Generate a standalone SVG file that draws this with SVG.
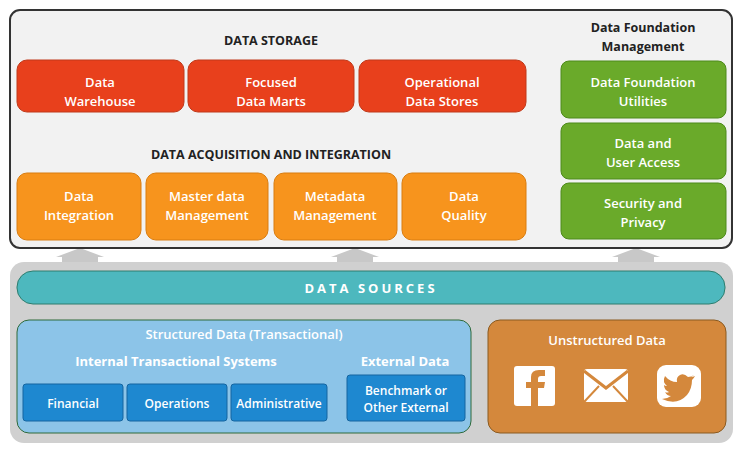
<svg xmlns="http://www.w3.org/2000/svg" width="743" height="454" viewBox="0 0 743 454">
<style>
text{font-family:"Open Sans","Liberation Sans",sans-serif;font-size:13px;fill:#fff;text-anchor:middle;font-weight:600}
.h{fill:#222;font-weight:bold;font-size:12.5px}
.red{fill:#e8401c;stroke:#c0391a}
.org{fill:#f7941d;stroke:#d97d10}
.grn{fill:#6aaa2a;stroke:#4d8a1a}
.blu{fill:#1e88d0;stroke:#1565a0}
</style>
<g id="arrows">
<path d="M62 262V257H56L80 248 104 257H98V262Z" fill="#c8c8c8"/>
<path d="M337 262V257H331L355 248 379 257H373V262Z" fill="#c8c8c8"/>
<path d="M618 262V257H612L636 248 660 257H654V262Z" fill="#c8c8c8"/>
</g>
<g id="top">
<rect x="10" y="10" width="722" height="238" rx="10" fill="#f2f2f2" stroke="#333" stroke-width="2"/>
<text class="h" x="271" y="45">DATA STORAGE</text>
<text class="h" x="271" y="159">DATA ACQUISITION AND INTEGRATION</text>
<text class="h" x="643" y="32">Data Foundation</text>
<text class="h" x="643" y="51">Management</text>
</g>
<g id="dw"><rect class="red" x="17" y="60" width="167" height="52" rx="10"/><text x="100" y="87">Data</text><text x="100" y="106">Warehouse</text></g>
<g id="dm"><rect class="red" x="188" y="60" width="166" height="52" rx="10"/><text x="271" y="87">Focused</text><text x="271" y="106">Data Marts</text></g>
<g id="ods"><rect class="red" x="359" y="60" width="167" height="52" rx="10"/><text x="442" y="87">Operational</text><text x="442" y="106">Data Stores</text></g>
<g id="di"><rect class="org" x="17" y="173" width="124" height="67" rx="10"/><text x="79" y="201">Data</text><text x="79" y="220">Integration</text></g>
<g id="mdm"><rect class="org" x="146" y="173" width="122" height="67" rx="10"/><text x="207" y="201">Master data</text><text x="207" y="220">Management</text></g>
<g id="meta"><rect class="org" x="274" y="173" width="123" height="67" rx="10"/><text x="335" y="201">Metadata</text><text x="335" y="220">Management</text></g>
<g id="dq"><rect class="org" x="402" y="173" width="124" height="67" rx="10"/><text x="464" y="201">Data</text><text x="464" y="220">Quality</text></g>
<g id="dfu"><rect class="grn" x="561" y="61" width="165" height="57" rx="8"/><text x="643" y="87">Data Foundation</text><text x="643" y="106">Utilities</text></g>
<g id="dua"><rect class="grn" x="561" y="123" width="165" height="56" rx="8"/><text x="643" y="148">Data and</text><text x="643" y="167">User Access</text></g>
<g id="sp"><rect class="grn" x="561" y="183" width="165" height="56" rx="8"/><text x="643" y="208">Security and</text><text x="643" y="227">Privacy</text></g>
<g id="bottom">
<rect x="10" y="262" width="723" height="181" rx="14" fill="#d0d0d0"/>
</g>
<g id="ds"><rect x="17" y="271" width="708" height="33" rx="16" fill="#4db8be" stroke="#2e7d6e"/><text x="371" y="293" style="font-weight:bold;letter-spacing:3px;font-size:13px">DATA SOURCES</text></g>
<g id="structured">
<rect x="17" y="320" width="454" height="113" rx="12" fill="#8cc4e8" stroke="#2e6a3a"/>
<text x="244" y="339">Structured Data (Transactional)</text>
<text x="176" y="366" style="font-weight:bold">Internal Transactional Systems</text>
<text x="405" y="366" style="font-weight:bold">External Data</text>
</g>
<g id="fin"><rect class="blu" x="23" y="384" width="100" height="37" rx="3"/><text x="73" y="408" style="font-size:12px">Financial</text></g>
<g id="ops"><rect class="blu" x="127" y="384" width="100" height="37" rx="3"/><text x="177" y="408" style="font-size:12px">Operations</text></g>
<g id="adm"><rect class="blu" x="231" y="384" width="96" height="37" rx="3"/><text x="279" y="408" style="font-size:12px">Administrative</text></g>
<g id="ext"><rect class="blu" x="347" y="375" width="118" height="46" rx="3"/><text x="406" y="395" style="font-size:12px">Benchmark or</text><text x="406" y="412" style="font-size:12px">Other External</text></g>
<g id="unstructured">
<rect x="488" y="320" width="238" height="113" rx="12" fill="#d4883c" stroke="#8a5a20"/>
<text x="607" y="345">Unstructured Data</text>
<rect x="514" y="366" width="41" height="40" rx="3" fill="#fff"/>
<path d="M531 406V388H526V382H531V377Q531 370 539 370H545V376H541Q538 376 538 379V382H545L544 388H538V406Z" fill="#d4883c"/>
<rect x="584" y="369" width="44" height="33" rx="3" fill="#fff"/>
<path d="M584 371L606 388 628 371" fill="none" stroke="#d4883c" stroke-width="3"/>
<path d="M584 402L599 386M628 402L613 386" stroke="#d4883c" stroke-width="2"/>
<rect x="657" y="365" width="44" height="42" rx="9" fill="#fff"/>
<path d="M694 375Q691 377 688 377Q684 373 680 375Q676 377 677 382Q670 382 665 376Q662 382 667 386Q665 386 664 385Q664 390 669 392Q667 393 665 392Q667 396 671 396Q667 399 662 399Q677 406 687 395Q692 389 692 380Q694 378 695 376Q693 377 691 377Q694 375 694 375Z" fill="#d4883c"/>
</g>
</svg>
